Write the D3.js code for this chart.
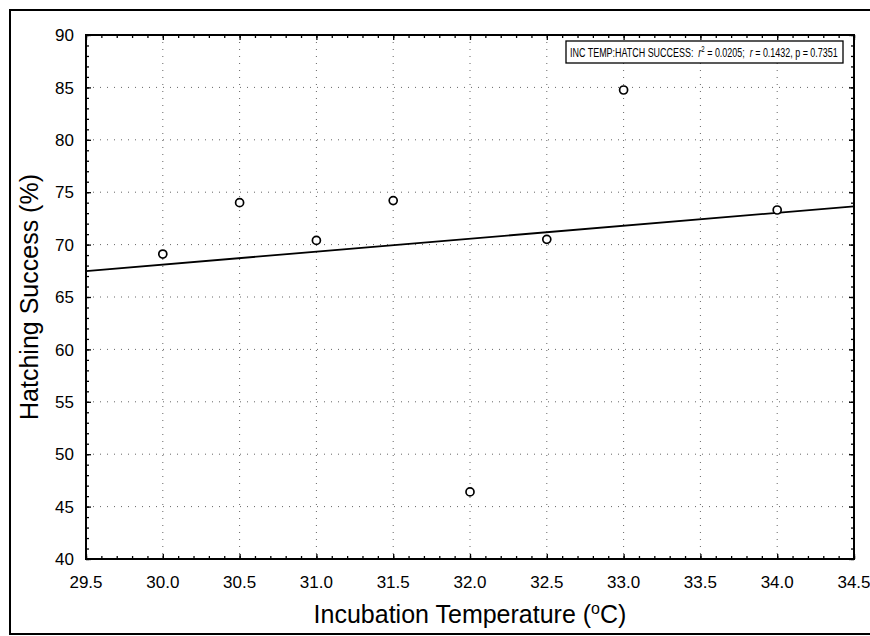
<!DOCTYPE html>
<html>
<head>
<meta charset="utf-8">
<script src="https://cdn.jsdelivr.net/npm/d3@7"></script>
<style>
  body { margin: 0; background: #fff; }
  text { font-family: Arial, "Liberation Sans", sans-serif; fill: #000; }
</style>
</head>
<body>
<script>
// incubation temperature (C) vs hatching success (%)
var temps = [30.0, 30.5, 31.0, 31.5, 32.0, 32.5, 33.0, 34.0];
var hatch = [69.1, 74.0, 70.4, 74.2, 46.4, 70.5, 84.75, 73.3];

var xTicks = [29.5, 30.0, 30.5, 31.0, 31.5, 32.0, 32.5, 33.0, 33.5, 34.0, 34.5];
var yTicks = [40, 45, 50, 55, 60, 65, 70, 75, 80, 85, 90];

var statsLabel = "INC TEMP:HATCH SUCCESS:";

var svg = d3.select('body').append('svg')
  .attr('width', 870)
  .attr('height', 636)

// outer frame (runs off the page right)
svg.append('path')
  .attr('d', 'M890,10 L10,10 L10,634 L890,634')
  .attr('fill', 'none')
  .attr('stroke', '#000')
  .attr('stroke-width', 2)

var margin = { top: 35, right: 16, bottom: 77, left: 86 },
  width = 870 - margin.left - margin.right,
  height = 636 - margin.top - margin.bottom,
  g = svg.append("g").attr("transform", "translate(" + margin.left + "," + margin.top + ")");

var x = d3.scaleLinear().domain([29.5, 34.5]).range([0, width]);
var y = d3.scaleLinear().domain([40, 90]).range([height, 0]);

// dotted grid
g.append('g')
  .selectAll('line')
  .data(xTicks.slice(1, -1))
  .enter().append('line')
  .attr('x1', function (d) { return x(d); })
  .attr('x2', function (d) { return x(d); })
  .attr('y1', 0)
  .attr('y2', height)
  .attr('stroke', '#666')
  .attr('stroke-width', 1)
  .attr('stroke-dasharray', '1,6')

g.append('g')
  .selectAll('line')
  .data(yTicks.slice(1, -1))
  .enter().append('line')
  .attr('y1', function (d) { return y(d); })
  .attr('y2', function (d) { return y(d); })
  .attr('x1', 0)
  .attr('x2', width)
  .attr('stroke', '#666')
  .attr('stroke-width', 1)
  .attr('stroke-dasharray', '1,6')

// inward ticks on all four sides
var xMinor = d3.range(295, 346).map(function (d) { return d / 10; });
var yMinor = d3.range(40, 91);

g.append('g').attr('transform', 'translate(0,' + height + ')')
  .call(d3.axisTop(x).tickValues(xMinor).tickSize(3).tickFormat(''))
g.append('g')
  .call(d3.axisBottom(x).tickValues(xMinor).tickSize(3).tickFormat(''))
g.append('g')
  .call(d3.axisRight(y).tickValues(yMinor).tickSize(3).tickFormat(''))
g.append('g').attr('transform', 'translate(' + width + ',0)')
  .call(d3.axisLeft(y).tickValues(yMinor).tickSize(3).tickFormat(''))

g.append('g').attr('transform', 'translate(0,' + height + ')')
  .call(d3.axisTop(x).tickValues(xTicks).tickSize(5).tickFormat(''))
g.append('g')
  .call(d3.axisBottom(x).tickValues(xTicks).tickSize(5).tickFormat(''))
g.append('g')
  .call(d3.axisRight(y).tickValues(yTicks).tickSize(5).tickFormat(''))
g.append('g').attr('transform', 'translate(' + width + ',0)')
  .call(d3.axisLeft(y).tickValues(yTicks).tickSize(5).tickFormat(''))

g.selectAll('.domain').remove();
g.selectAll('.tick line').attr('stroke', '#000').attr('stroke-width', 1.3);

// plot frame
g.append('rect')
  .attr('width', width)
  .attr('height', height)
  .attr('fill', 'none')
  .attr('stroke', '#000')
  .attr('stroke-width', 2)

// tick labels
g.append('g')
  .selectAll('text')
  .data(xTicks)
  .enter().append('text')
  .attr('x', function (d) { return x(d); })
  .attr('y', height + 29)
  .style('text-anchor', 'middle')
  .style('font-size', '17px')
  .text(function (d) { return d.toFixed(1); })

g.append('g')
  .selectAll('text')
  .data(yTicks)
  .enter().append('text')
  .attr('x', -12)
  .attr('y', function (d) { return y(d); })
  .attr('dy', '0.36em')
  .style('text-anchor', 'end')
  .style('font-size', '17px')
  .text(function (d) { return d; })

// least squares line
var mx = d3.mean(temps), my = d3.mean(hatch);
var sxy = d3.sum(temps, function (t, i) { return (t - mx) * (hatch[i] - my); });
var sxx = d3.sum(temps, function (t) { return (t - mx) * (t - mx); });
var slope = sxy / sxx, icpt = my - slope * mx;

var line = d3.line()
  .x(function (d) { return x(d); })
  .y(function (d) { return y(icpt + slope * d); });

g.append('path')
  .attr('d', line(x.domain()))
  .attr('fill', 'none')
  .attr('stroke', '#000')
  .attr('stroke-width', 1.8)

g.append('g')
  .selectAll('circle')
  .data(temps)
  .enter().append('circle')
  .attr('cx', function (d) { return x(d); })
  .attr('cy', function (d, i) { return y(hatch[i]); })
  .attr('r', 4)
  .attr('fill', '#fff')
  .attr('stroke', '#000')
  .attr('stroke-width', 1.7)

// stats box
var box = svg.append('g').attr('transform', 'translate(566,41)');
box.append('rect')
  .attr('width', 277)
  .attr('height', 22)
  .attr('fill', '#fff')
  .attr('stroke', '#000')
  .attr('stroke-width', 1.3)

var st = box.append('text')
  .attr('y', 15.8)
  .style('font-size', '12.5px')
st.append('tspan').text(statsLabel + '\u00a0 ');
st.append('tspan').style('font-style', 'italic').text('r');
st.append('tspan').attr('dy', -4.5).style('font-size', '8.5px').text('2');
st.append('tspan').attr('dy', 4.5).text(' = 0.0205;\u00a0 ');
st.append('tspan').style('font-style', 'italic').text('r');
st.append('tspan').text(' = 0.1432, p = 0.7351');

// squeeze the line into the box, keep glyph height
var tw = st.node().getComputedTextLength();
var sx = 268 / tw;
st.attr('transform', 'translate(4,0) scale(' + sx + ',1)');

// axis titles
svg.append('text')
  .attr('x', (86 + 854) / 2)
  .attr('y', 623)
  .style('text-anchor', 'middle')
  .style('font-size', '25px')
  .call(function (t) {
    t.append('tspan').text('Incubation Temperature (');
    t.append('tspan').attr('dy', -9).style('font-size', '16px').text('o');
    t.append('tspan').attr('dy', 9).text('C)');
  })

svg.append('text')
  .attr('transform', 'translate(38,' + (margin.top + height / 2) + ') rotate(-90)')
  .style('text-anchor', 'middle')
  .style('font-size', '25px')
  .text('Hatching Success (%)')
</script>
</body>
</html>
